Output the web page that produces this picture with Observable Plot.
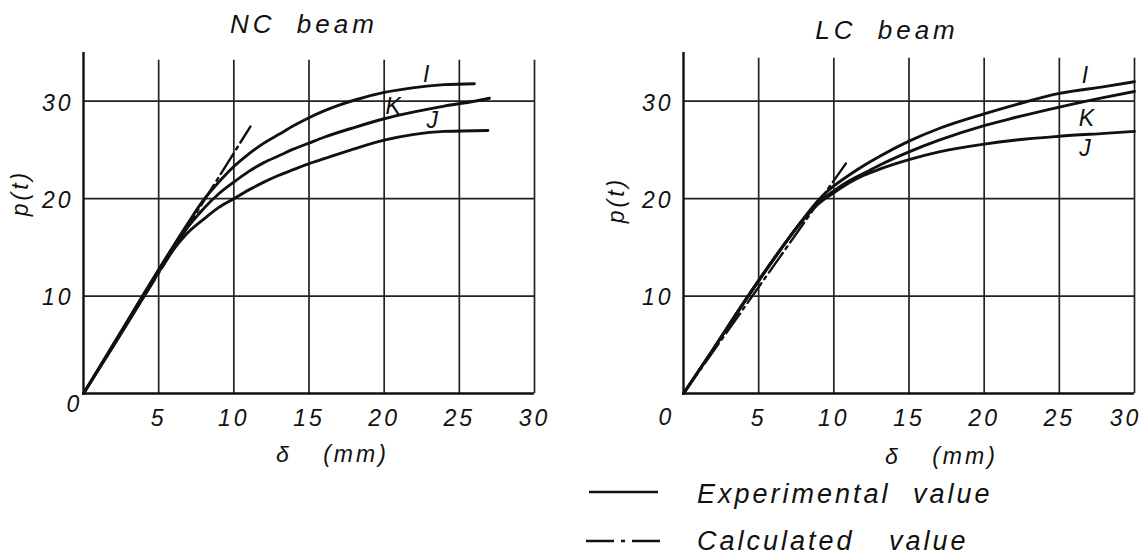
<!DOCTYPE html>
<html><head><meta charset="utf-8">
<script src="https://cdn.jsdelivr.net/npm/d3@7"></script>
<script src="https://cdn.jsdelivr.net/npm/@observablehq/plot@0.6"></script>
<style>
html,body{margin:0;padding:0;background:#fff;width:1142px;height:560px;overflow:hidden;}
body{position:relative;font-family:"Liberation Sans",sans-serif;font-style:italic;color:#111;}
.abs{position:absolute;white-space:pre;line-height:1;}
.panel{width:560px;height:470px;}
.panel svg{max-width:none !important;}
.c{transform:translate(-50%,-50%);}
.t{font-size:26px;letter-spacing:4px;word-spacing:10px;}
.lab{font-size:23px;letter-spacing:3px;}
.leg{font-size:27px;letter-spacing:3px;word-spacing:12px;transform:translateY(-50%);}
</style></head><body>
<div id="left" class="abs panel" style="left:0;top:0"></div>
<div id="right" class="abs panel" style="left:600px;top:0"></div>
<div class="abs c t" style="left:304px;top:24px">NC beam</div>
<div class="abs c t" style="left:887px;top:30px">LC beam</div>
<div class="abs c lab" style="left:284px;top:454px">δ</div>
<div class="abs c lab" style="left:356px;top:454px">(mm)</div>
<div class="abs c lab" style="left:893px;top:456px">δ</div>
<div class="abs c lab" style="left:965px;top:456px">(mm)</div>
<div class="abs c lab" style="left:20px;top:193px;transform:translate(-50%,-50%) rotate(-90deg)">p(t)</div>
<div class="abs c lab" style="left:616px;top:200px;transform:translate(-50%,-50%) rotate(-90deg)">p(t)</div>
<svg class="abs" style="left:580px;top:470px" width="90" height="90">
  <line x1="9" x2="78" y1="22" y2="22" stroke="#111" stroke-width="2.6"/>
  <line x1="6" x2="80" y1="71" y2="71" stroke="#111" stroke-width="2.6" stroke-dasharray="28,7,4,7"/>
</svg>
<div class="abs leg" style="left:697px;top:494px">Experimental value</div>
<div class="abs leg" style="left:697px;top:541px;word-spacing:24px">Calculated value</div>
<script>
// ---- data ----
const xTicks = [5, 10, 15, 20, 25, 30];
const yTicks = [10, 20, 30];

// NC beam (delta mm, p t)
const ncI = [[0,0],[2,5.1],[4,10.2],[6,15.2],[7,17.6],[8,19.9],[9,21.7],[10,23.3],[11,24.6],[12,25.7],[13,26.6],[14,27.5],[15,28.3],[16,29.0],[17,29.6],[18,30.1],[20,30.9],[22,31.4],[24,31.7],[26,31.8]];
const ncK = [[0,0],[2,5.0],[4,10.1],[6,15.0],[7,17.2],[8,19.0],[9,20.5],[10,21.7],[11,22.8],[12,23.7],[13,24.4],[14,25.1],[15,25.7],[16,26.3],[18,27.3],[20,28.2],[22,28.9],[24,29.5],[26,30.0],[27,30.3]];
const ncJ = [[0,0],[2,4.9],[4,9.9],[6,14.8],[7,16.6],[8,17.9],[9,19.1],[10,20.0],[11,20.9],[12,21.7],[13,22.4],[14,23.0],[15,23.6],[16,24.1],[18,25.1],[20,26.0],[22,26.6],[24,26.9],[26.9,27.0]];
const ncCalc = [[0,0],[11.1,27.4]];
const ncLabels = [{x:22.9,y:32.7,name:"I"},{x:20.7,y:29.4,name:"K"},{x:23.3,y:28.0,name:"J"}];

// LC beam
const lcI = [[0,0],[2,4.6],[4,9.3],[6,13.8],[8,18.0],[9,19.9],[10,21.3],[11,22.4],[12,23.4],[13,24.3],[15,25.9],[17,27.2],[20,28.7],[22,29.6],[25,30.8],[28,31.5],[30,32.0]];
const lcK = [[0,0],[2,4.6],[4,9.3],[6,13.8],[8,17.9],[9,19.6],[10,20.8],[11,21.8],[12,22.6],[13,23.4],[15,24.8],[17,26.0],[20,27.5],[22,28.3],[25,29.4],[28,30.4],[30,31.0]];
const lcJ = [[0,0],[2,4.6],[4,9.3],[6,13.8],[8,17.9],[9,19.5],[10,20.6],[11,21.6],[12,22.4],[13,23.0],[15,24.0],[17,24.8],[20,25.6],[22,26.0],[25,26.4],[28,26.7],[30,26.9]];
const lcCalc = [[0,0],[10.8,23.6]];
const lcLabels = [{x:26.8,y:32.6,name:"I"},{x:26.9,y:28.2,name:"K"},{x:26.8,y:25.1,name:"J"}];

function panel(curves, calc, labels, zeroDx, zeroDy, gridTop, lastDx) {
  const ink = "#111";
  const fs = 23;
  const last = xTicks[xTicks.length - 1];
  return Plot.plot({
    width: 560, height: 470,
    marginLeft: 83, marginRight: 26, marginTop: 52, marginBottom: 77,
    x: {domain: [0, 30], axis: null},
    y: {domain: [0, 35], axis: null},
    style: {fontFamily: "'Liberation Sans', sans-serif", fontStyle: "italic", fontSize: fs + "px", letterSpacing: "3px", overflow: "visible", background: "transparent", color: ink, maxWidth: "none"},
    marks: [
      Plot.ruleX(xTicks, {y1: 0, y2: gridTop, stroke: "#222", strokeWidth: 1.7}),
      Plot.ruleY(yTicks, {x1: 0, x2: 30, stroke: "#222", strokeWidth: 1.7}),
      Plot.ruleY([0], {x1: 0, x2: 30, stroke: ink, strokeWidth: 2.4}),
      Plot.ruleX([0], {y1: 0, y2: 35, stroke: ink, strokeWidth: 2.4}),
      ...curves.map(c => Plot.line(c, {x: d => d[0], y: d => d[1], curve: "monotone-x", stroke: ink, strokeWidth: 2.9})),
      Plot.line(calc, {x: d => d[0], y: d => d[1], stroke: ink, strokeWidth: 2.4, strokeDasharray: "24,5,3,5"}),
      Plot.text(xTicks.slice(0, -1), {x: d => d, y: 0, dy: 25, text: d => String(d), fontSize: fs, fill: ink}),
      Plot.text([last], {x: d => d, y: 0, dx: lastDx, dy: 25, text: d => String(d), fontSize: fs, fill: ink}),
      Plot.text(yTicks, {x: 0, y: d => d, dx: -10, dy: 2, textAnchor: "end", text: d => String(d), fontSize: fs, fill: ink}),
      Plot.text([0], {x: 0, y: 0, dx: zeroDx, dy: zeroDy, text: d => String(d), fontSize: fs, fill: ink}),
      Plot.text(labels, {x: "x", y: "y", text: "name", fontSize: 23, fill: ink})
    ]
  });
}

document.getElementById("left").append(panel([ncI, ncK, ncJ], ncCalc, ncLabels, -9, 11, 34.2, 0));
document.getElementById("right").append(panel([lcI, lcK, lcJ], lcCalc, lcLabels, -17, 24, 34.4, -9));
</script>
</body></html>
